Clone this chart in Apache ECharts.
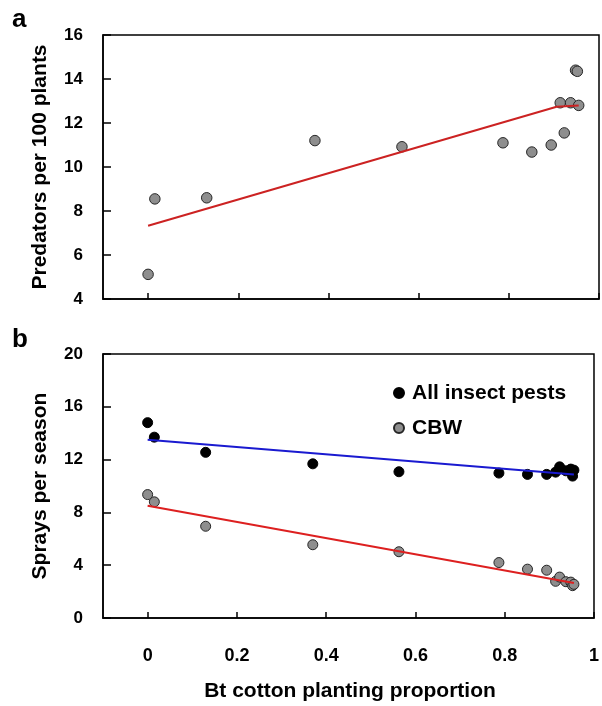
<!DOCTYPE html>
<html>
<head>
<meta charset="utf-8">
<script src="https://cdn.jsdelivr.net/npm/echarts@6/dist/echarts.min.js"></script>
<style>
  html, body { margin: 0; padding: 0; background: #fff; }
  #chart { width: 602px; height: 706px; }
</style>
</head>
<body>
<div id="chart"></div>
<script>
// Bt cotton planting proportion for each season
const btProportion = [0, 0.015, 0.13, 0.37, 0.563, 0.787, 0.851, 0.894, 0.914, 0.923, 0.937, 0.948, 0.952, 0.955];

// Panel a: predators per 100 plants
const predators = [5.12, 8.55, 8.6, 11.2, 10.92, 11.1, 10.68, 11.0, 12.92, 11.55, 12.92, 14.4, 14.35, 12.8];
// fitted trend for predators (x, y)
const predatorFitX = [0, 0.906, 0.955];
const predatorFitY = [7.33, 12.74, 12.8];

// Panel b: sprays per season
const sprayAllPests = [14.8, 13.7, 12.55, 11.68, 11.08, 10.98, 10.88, 10.88, 11.05, 11.45, 11.15, 11.28, 10.75, 11.2];
const sprayCBW = [9.35, 8.8, 6.95, 5.55, 5.02, 4.2, 3.7, 3.62, 2.78, 3.1, 2.75, 2.72, 2.45, 2.55];
const allPestsFitX = [0, 0.955];
const allPestsFitY = [13.5, 10.88];
const cbwFitX = [0, 0.955];
const cbwFitY = [8.5, 2.65];

// axis ticks
const xTicks = [0, 0.2, 0.4, 0.6, 0.8, 1];
const xTickLabels = ['0', '0.2', '0.4', '0.6', '0.8', '1'];
const predatorTicks = { min: 4, max: 16, step: 2 };
const sprayTicks = { min: 0, max: 20, step: 4 };

const pairs = (xs, ys) => xs.map((x, i) => [x, ys[i]]);

const FONT = 'Liberation Sans, Arial, sans-serif';

const chart = echarts.init(document.getElementById('chart'), null, { renderer: 'canvas' });

function xAxisDef(gridIndex, withLabels) {
  return {
    type: 'value',
    gridIndex: gridIndex,
    min: -0.1,
    max: 1,
    axisLine: { show: true, onZero: false, lineStyle: { color: '#000', width: 1.5 } },
    axisTick: { show: true, inside: true, length: 6, customValues: xTicks, lineStyle: { color: '#000', width: 1.5 } },
    axisLabel: withLabels ? {
      show: true,
      customValues: xTicks,
      formatter: v => xTickLabels[xTicks.indexOf(Math.round(v * 10) / 10)] ?? String(v),
      margin: 29,
      color: '#000',
      fontFamily: FONT,
      fontWeight: 'bold',
      fontSize: 18
    } : { show: false },
    splitLine: { show: false }
  };
}

function yAxisDef(gridIndex, t) {
  return {
    type: 'value',
    gridIndex: gridIndex,
    min: t.min,
    max: t.max,
    interval: t.step,
    axisLine: { show: true, onZero: false, lineStyle: { color: '#000', width: 1.5 } },
    axisTick: { show: true, inside: true, length: 8, lineStyle: { color: '#000', width: 1.5 } },
    axisLabel: {
      show: true,
      margin: 20,
      color: '#000',
      fontFamily: FONT,
      fontWeight: 'bold',
      fontSize: 17,
      padding: [9, 0, 0, 0]
    },
    splitLine: { show: false }
  };
}

const grayMarker = { color: '#8e8e8e', borderColor: '#262626', borderWidth: 1, opacity: 1 };
const blackMarker = { color: '#000', borderColor: '#000', borderWidth: 1, opacity: 1 };

chart.setOption({
  animation: false,
  backgroundColor: '#fff',
  grid: [
    { left: 103, top: 35, right: 3, height: 264, show: true, borderColor: '#000', borderWidth: 1.5, containLabel: false },
    { left: 103, top: 354, right: 3, height: 264, show: true, borderColor: '#000', borderWidth: 1.5, containLabel: false }
  ],
  xAxis: [xAxisDef(0, false), xAxisDef(1, true)],
  yAxis: [yAxisDef(0, predatorTicks), yAxisDef(1, sprayTicks)],
  legend: {
    data: ['All insect pests', 'CBW'],
    orient: 'vertical',
    left: 388,
    top: 376,
    itemWidth: 10,
    itemHeight: 10,
    itemGap: 11,
    icon: 'circle',
    textStyle: { color: '#000', fontFamily: FONT, fontWeight: 'bold', fontSize: 21, lineHeight: 24, padding: [0, 0, 0, 3] }
  },
  series: [
    {
      name: 'Predators',
      type: 'scatter',
      xAxisIndex: 0, yAxisIndex: 0,
      symbolSize: 10.5,
      itemStyle: grayMarker,
      data: pairs(btProportion, predators),
      z: 2
    },
    {
      name: 'Predators fit',
      type: 'line',
      xAxisIndex: 0, yAxisIndex: 0,
      symbol: 'none',
      lineStyle: { color: '#cc2222', width: 2 },
      data: pairs(predatorFitX, predatorFitY),
      z: 3
    },
    {
      name: 'All insect pests',
      type: 'scatter',
      xAxisIndex: 1, yAxisIndex: 1,
      symbolSize: 10,
      itemStyle: blackMarker,
      data: pairs(btProportion, sprayAllPests),
      z: 2
    },
    {
      name: 'CBW',
      type: 'scatter',
      xAxisIndex: 1, yAxisIndex: 1,
      symbolSize: 10,
      itemStyle: grayMarker,
      data: pairs(btProportion, sprayCBW),
      z: 2
    },
    {
      name: 'All insect pests fit',
      type: 'line',
      xAxisIndex: 1, yAxisIndex: 1,
      symbol: 'none',
      lineStyle: { color: '#1a1ad0', width: 2 },
      data: pairs(allPestsFitX, allPestsFitY),
      z: 3
    },
    {
      name: 'CBW fit',
      type: 'line',
      xAxisIndex: 1, yAxisIndex: 1,
      symbol: 'none',
      lineStyle: { color: '#dd2020', width: 2 },
      data: pairs(cbwFitX, cbwFitY),
      z: 3
    }
  ],
  graphic: [
    { type: 'text', left: 12, top: 7, style: { text: 'a', fill: '#000', font: 'bold 26px ' + FONT } },
    { type: 'text', left: 12, top: 327, style: { text: 'b', fill: '#000', font: 'bold 26px ' + FONT } },
    {
      type: 'text', x: 40, y: 167, rotation: Math.PI / 2,
      style: { text: 'Predators per 100 plants', fill: '#000', font: 'bold 21px ' + FONT, align: 'center', verticalAlign: 'middle' }
    },
    {
      type: 'text', x: 40, y: 486, rotation: Math.PI / 2,
      style: { text: 'Sprays per season', fill: '#000', font: 'bold 21px ' + FONT, align: 'center', verticalAlign: 'middle' }
    },
    {
      type: 'text', x: 350, y: 691,
      style: { text: 'Bt cotton planting proportion', fill: '#000', font: 'bold 21px ' + FONT, align: 'center', verticalAlign: 'middle' }
    }
  ]
});
</script>
</body>
</html>
